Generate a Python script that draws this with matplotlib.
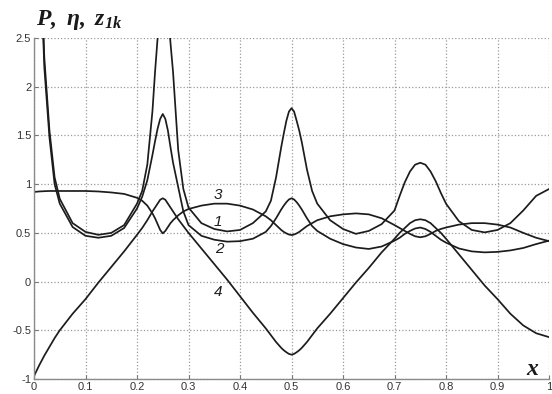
# P, eta, z_1k versus x -- four curves on a dotted grid
import matplotlib
matplotlib.use("Agg")
import matplotlib.pyplot as plt

# values
x_vals = [0, 0.01, 0.02, 0.03, 0.04, 0.05, 0.075, 0.1, 0.125, 0.15, 0.175, 0.2,
          0.21, 0.22, 0.23, 0.235, 0.24, 0.245, 0.25, 0.255, 0.26, 0.265, 0.27, 0.28,
          0.29, 0.3, 0.325, 0.35, 0.375, 0.4, 0.425, 0.45, 0.46, 0.47, 0.48, 0.485,
          0.49, 0.495, 0.5, 0.505, 0.51, 0.515, 0.52, 0.53, 0.54, 0.55, 0.575, 0.6,
          0.625, 0.65, 0.675, 0.7, 0.71, 0.72, 0.73, 0.74, 0.75, 0.76, 0.77, 0.78,
          0.79, 0.8, 0.825, 0.85, 0.875, 0.9, 0.925, 0.95, 0.975, 1.0]

curve_1 = [6.0, 3.8, 2.3, 1.55, 1.07, 0.85, 0.6, 0.51, 0.48, 0.5, 0.58, 0.8,
           0.93, 1.2, 1.75, 2.15, 2.5, 3.0, 3.4, 3.2, 2.8, 2.45, 2.15, 1.35,
           0.95, 0.76, 0.6, 0.54, 0.515, 0.53, 0.6, 0.72, 0.83, 1.07, 1.38, 1.52,
           1.65, 1.745, 1.78, 1.745, 1.65, 1.55, 1.43, 1.15, 0.93, 0.8, 0.63, 0.54,
           0.49, 0.52, 0.59, 0.73, 0.88, 1.02, 1.13, 1.2, 1.22, 1.2, 1.13, 1.03,
           0.91, 0.8, 0.62, 0.53, 0.505, 0.53, 0.6, 0.73, 0.88, 0.95]

curve_2 = [6.0, 3.7, 2.2, 1.48, 1.0, 0.8, 0.56, 0.47, 0.45, 0.47, 0.55, 0.75,
           0.87, 1.04, 1.3, 1.44, 1.57, 1.67, 1.72, 1.67, 1.55, 1.38, 1.22, 0.97,
           0.72, 0.58, 0.47, 0.43, 0.41, 0.415, 0.44, 0.51, 0.57, 0.65, 0.74, 0.78,
           0.815, 0.843, 0.855, 0.843, 0.815, 0.78, 0.74, 0.65, 0.57, 0.52, 0.44, 0.385,
           0.35, 0.335, 0.36, 0.42, 0.45, 0.49, 0.52, 0.545, 0.555, 0.54, 0.51, 0.47,
           0.43, 0.4, 0.34, 0.31, 0.3, 0.305, 0.32, 0.345, 0.385, 0.42]

curve_3 = [0.92, 0.925, 0.928, 0.93, 0.93, 0.93, 0.93, 0.93, 0.925, 0.915, 0.9, 0.86,
           0.83, 0.78, 0.7, 0.65, 0.59, 0.53, 0.495, 0.52, 0.56, 0.6, 0.63, 0.68,
           0.72, 0.745, 0.78, 0.8, 0.8, 0.78, 0.74, 0.67, 0.63, 0.58, 0.53, 0.51,
           0.495, 0.483, 0.478, 0.483, 0.495, 0.51, 0.53, 0.57, 0.6, 0.63, 0.67, 0.69,
           0.7, 0.69, 0.65, 0.58, 0.55, 0.52, 0.49, 0.465, 0.455, 0.465, 0.49, 0.52,
           0.54, 0.555, 0.585, 0.6, 0.6, 0.585, 0.555, 0.5, 0.45, 0.415]

curve_4 = [-0.97, -0.86, -0.76, -0.67, -0.58, -0.5, -0.33, -0.18, -0.01, 0.15, 0.31, 0.48,
           0.55, 0.63, 0.72, 0.76, 0.8, 0.84, 0.855, 0.84, 0.8, 0.76, 0.72, 0.64,
           0.57, 0.5, 0.34, 0.18, 0.02, -0.15, -0.32, -0.48, -0.55, -0.62, -0.68, -0.705,
           -0.725, -0.742, -0.75, -0.742, -0.725, -0.705, -0.68, -0.62, -0.55, -0.48, -0.33, -0.17,
           -0.01, 0.14, 0.3, 0.44, 0.5, 0.55, 0.6, 0.63, 0.64, 0.63, 0.6, 0.55,
           0.5, 0.44, 0.28, 0.12, -0.04, -0.18, -0.33, -0.45, -0.53, -0.57]

curve_labels = ["1", "2", "3", "4"]
label_x = [0.357, 0.36, 0.357, 0.357]
label_y = [0.61, 0.33, 0.89, -0.11]

x_ticks = [0, 0.1, 0.2, 0.3, 0.4, 0.5, 0.6, 0.7, 0.8, 0.9, 1]
x_tick_labels = ["0", "0.1", "0.2", "0.3", "0.4", "0.5", "0.6", "0.7", "0.8", "0.9", "1"]
y_ticks = [-1, -0.5, 0, 0.5, 1, 1.5, 2, 2.5]
y_tick_labels = ["-1", "-0.5", "0", "0.5", "1", "1.5", "2", "2.5"]


def create_plot():
    plt.rcParams['mathtext.fontset'] = 'custom'
    plt.rcParams['mathtext.rm'] = 'Liberation Serif:bold:italic'
    plt.rcParams['mathtext.it'] = 'Liberation Serif:bold:italic'
    plt.rcParams['mathtext.bf'] = 'Liberation Serif:bold:italic'

    fig = plt.figure(figsize=(5.52, 3.94), dpi=100)
    ax = fig.add_axes([0.0616, 0.038, 0.9330, 0.8655])

    for ys in (curve_1, curve_2, curve_3, curve_4):
        ax.plot(x_vals, ys, color='#1c1c1c', lw=1.25, solid_joinstyle='round')

    for t, lx, ly in zip(curve_labels, label_x, label_y):
        ax.text(lx, ly, t, fontsize=11, style='italic', family='Liberation Sans',
                color='#1c1c1c', ha='center', va='center')

    ax.set_xlim(0, 1)
    ax.set_ylim(-1, 2.5)
    ax.set_xticks(x_ticks)
    ax.set_xticklabels(x_tick_labels)
    ax.set_yticks(y_ticks)
    ax.set_yticklabels(y_tick_labels)
    ax.tick_params(direction='in', length=3, width=0.8, colors='#777777',
                   labelcolor='#333333', labelsize=8, pad=2)
    for lab in ax.get_xticklabels() + ax.get_yticklabels():
        lab.set_family('Liberation Sans')

    ax.grid(True, linestyle=':', color='#9a9a9a', lw=0.9)
    ax.spines['top'].set_visible(False)
    ax.spines['right'].set_visible(False)
    for s in ('left', 'bottom'):
        ax.spines[s].set_color('#8a8a8a')
        ax.spines[s].set_linewidth(1.0)

    # axis captions
    fig.text(0.066, 0.937, r'$P,\ \eta,\ z_{1k}$', fontsize=17, color='#1a1a1a',
             ha='left', va='baseline')
    ax.text(0.969, -0.89, r'$x$', fontsize=17, color='#1a1a1a', ha='center', va='center')

    fig.savefig('out.png', dpi=100)


if __name__ == "__main__":
    create_plot()
